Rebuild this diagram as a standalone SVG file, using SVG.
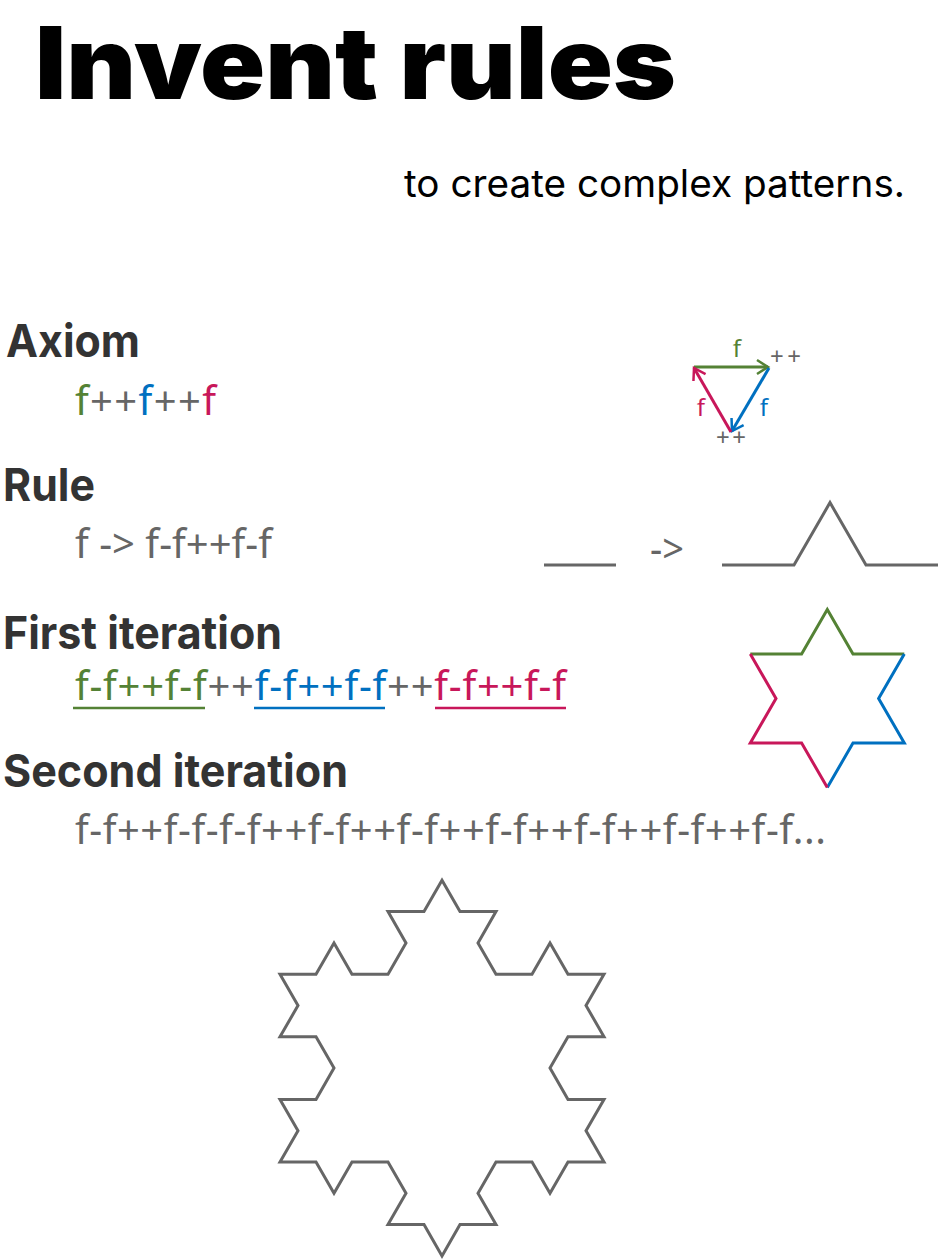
<svg xmlns="http://www.w3.org/2000/svg" width="939" height="1259" viewBox="0 0 939 1259">
<style>
.title{font-family:Inter,"Liberation Sans",sans-serif;font-weight:900;font-size:100px;fill:#000}
.sub{font-family:Inter,"Liberation Sans",sans-serif;font-weight:400;font-size:38px;fill:#000}
.head{font-family:Inter,"Liberation Sans",sans-serif;font-weight:700;font-size:45px;fill:#333}
.body{font-family:"Noto Sans","Liberation Sans",sans-serif;font-weight:400;font-size:40px;fill:#666}
.lbl{font-family:"Noto Sans","Liberation Sans",sans-serif;font-size:24px}
.g{fill:#548235}.b{fill:#0070c0}.r{fill:#c8175a}.k{fill:#666}
.ln{fill:none;stroke-width:3;stroke-linejoin:miter}
.gs{stroke:#548235}.bs{stroke:#0070c0}.rs{stroke:#c8175a}.ks{stroke:#666}
</style>
<defs>
<marker id="ag" markerUnits="userSpaceOnUse" markerWidth="20" markerHeight="20" refX="0" refY="0" viewBox="-14 -10 20 20" orient="auto"><path d="M-11,-7 L0,0 L-11,7" fill="none" stroke="#548235" stroke-width="2.5"/></marker>
<marker id="ab" markerUnits="userSpaceOnUse" markerWidth="20" markerHeight="20" refX="0" refY="0" viewBox="-14 -10 20 20" orient="auto"><path d="M-11,-7 L0,0 L-11,7" fill="none" stroke="#0070c0" stroke-width="2.5"/></marker>
<marker id="ar" markerUnits="userSpaceOnUse" markerWidth="20" markerHeight="20" refX="0" refY="0" viewBox="-14 -10 20 20" orient="auto"><path d="M-11,-7 L0,0 L-11,7" fill="none" stroke="#c8175a" stroke-width="2.5"/></marker>
</defs>

<g id="title">
<text class="title" x="35" y="99" textLength="641" lengthAdjust="spacingAndGlyphs">Invent rules</text>
<text class="sub" x="404" y="197" textLength="501" lengthAdjust="spacingAndGlyphs">to create complex patterns.</text>
</g>

<g id="axiom">
<text class="head" x="6" y="357" textLength="134" lengthAdjust="spacingAndGlyphs">Axiom</text>
<text class="body" x="75" y="415" textLength="141"><tspan class="g">f</tspan>++<tspan class="b">f</tspan>++<tspan class="r">f</tspan></text>
</g>

<g id="axiom-triangle">
<line class="ln gs" x1="694" y1="367" x2="768" y2="367" marker-end="url(#ag)"/>
<line class="ln bs" x1="769" y1="368" x2="732" y2="431" marker-end="url(#ab)"/>
<line class="ln rs" x1="731" y1="432" x2="694" y2="368" marker-end="url(#ar)"/>
<text class="lbl g" x="737" y="357" text-anchor="middle">f</text>
<text class="lbl k" x="770" y="365" textLength="31">++</text>
<text class="lbl r" x="701" y="416" text-anchor="middle">f</text>
<text class="lbl b" x="764" y="416" text-anchor="middle">f</text>
<text class="lbl k" x="716" y="446" textLength="30">++</text>
</g>

<g id="rule">
<text class="head" x="3" y="501" textLength="92" lengthAdjust="spacingAndGlyphs">Rule</text>
<text class="body" x="75" y="558" textLength="197">f -&gt; f-f++f-f</text>
</g>

<g id="rule-diagram">
<line class="ln ks" x1="544" y1="565" x2="616" y2="565"/>
<text class="body" x="650" y="563" font-size="34" textLength="34" lengthAdjust="spacingAndGlyphs">-&gt;</text>
<polyline class="ln ks" points="722,565 794,565 830,502.6 866,565 938,565"/>
</g>

<g id="first-iteration">
<text class="head" x="3" y="649" textLength="279" lengthAdjust="spacingAndGlyphs">First iteration</text>
<text class="body" x="75" y="700" textLength="491"><tspan class="g">f-f++f-f</tspan>++<tspan class="b">f-f++f-f</tspan>++<tspan class="r">f-f++f-f</tspan></text>
<line x1="73" y1="708" x2="205" y2="708" stroke="#548235" stroke-width="2.5"/>
<line x1="254" y1="708" x2="385" y2="708" stroke="#0070c0" stroke-width="2.5"/>
<line x1="435" y1="708" x2="566" y2="708" stroke="#c8175a" stroke-width="2.5"/>
</g>

<g id="star">
<polyline class="ln gs" points="750.3,654 801.6,654 827.3,609.5 853,654 904.3,654"/>
<polyline class="ln bs" points="904.3,654 878.6,698.5 904.3,743 853,743 827.3,787.5"/>
<polyline class="ln rs" points="827.3,787.5 801.6,743 750.3,743 776,698.5 750.3,654"/>
</g>

<g id="second-iteration">
<text class="head" x="3" y="787" textLength="345" lengthAdjust="spacingAndGlyphs">Second iteration</text>
<text class="body" x="75" y="844" textLength="751">f-f++f-f-f-f++f-f++f-f++f-f++f-f++f-f++f-f...</text>
</g>

<g id="snowflake">
<path class="ln ks" d="M280,974.2 L316,974.2 334,942.9 352,974.2 388,974.2 406,942.9 388,911.6 424,911.6 442,880.3 460,911.6 496,911.6 478,942.9 496,974.2 532,974.2 550,942.9 568,974.2 604,974.2 586,1005.5 604,1036.8 568,1036.8 550,1068.1 568,1099.4 604,1099.4 586,1130.7 604,1162 568,1162 550,1193.3 532,1162 496,1162 478,1193.3 496,1224.6 460,1224.6 442,1255.9 424,1224.6 388,1224.6 406,1193.3 388,1162 352,1162 334,1193.3 316,1162 280,1162 298,1130.7 280,1099.4 316,1099.4 334,1068.1 316,1036.8 280,1036.8 298,1005.5 Z"/>
</g>
</svg>
